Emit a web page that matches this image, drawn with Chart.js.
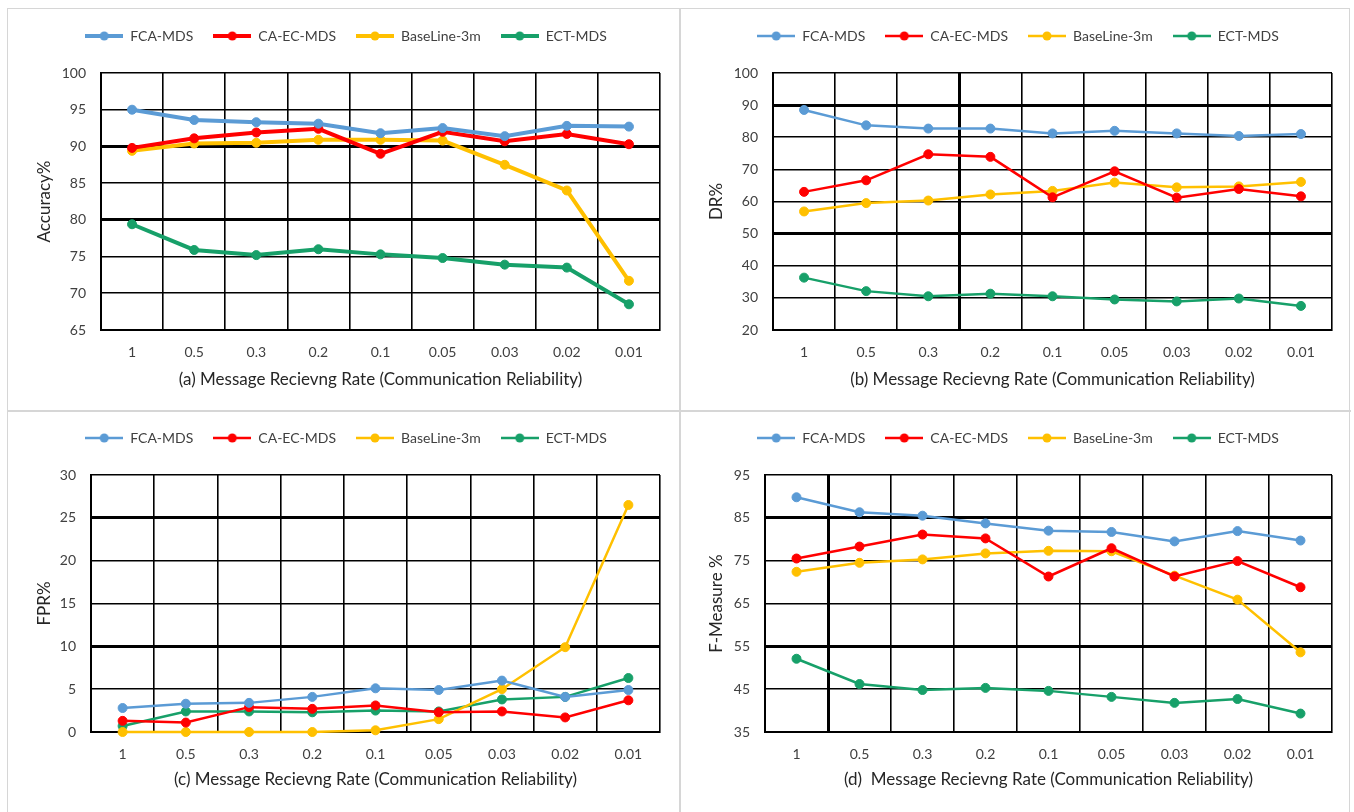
<!DOCTYPE html>
<html>
<head>
<meta charset="utf-8">
<title>Message receiving rate results</title>
<script src="https://cdn.jsdelivr.net/npm/chart.js@4.4.1/dist/chart.umd.min.js"></script>
<style>
  body { margin: 0; background: #fff; }
  #wrap { position: relative; width: 1354px; height: 812px; overflow: hidden; background: #fff; }
  #wrap canvas { position: absolute; }
  .frame { position: absolute; left: 7px; top: 8px; width: 1343px; height: 830px; border: 1px solid #d6d6d6; box-sizing: border-box; }
  .vline { position: absolute; left: 679px; top: 8px; width: 2px; height: 810px; background: #d6d6d6; }
  .hline { position: absolute; left: 7px; top: 410px; width: 1344px; height: 2px; background: #d6d6d6; }
</style>
</head>
<body>
<div id="wrap">
  <div class="frame"></div>
  <div class="vline"></div>
  <div class="hline"></div>
  <canvas id="chartA" width="672" height="402" style="left:8px;top:9px"></canvas>
  <canvas id="chartB" width="671" height="402" style="left:680px;top:9px"></canvas>
  <canvas id="chartC" width="672" height="401" style="left:8px;top:411px"></canvas>
  <canvas id="chartD" width="671" height="401" style="left:680px;top:411px"></canvas>
</div>
<script>
// x categories (message receiving rate)
const rates = ['1', '0.5', '0.3', '0.2', '0.1', '0.05', '0.03', '0.02', '0.01'];
const seriesNames = ['FCA-MDS', 'CA-EC-MDS', 'BaseLine-3m', 'ECT-MDS'];
const seriesColors = ['#5B9BD5', '#FF0000', '#FFC000', '#17A069'];

// (a) Accuracy %
const accFCA  = [95.0, 93.6, 93.3, 93.1, 91.8, 92.5, 91.4, 92.8, 92.7];
const accCAEC = [89.8, 91.1, 91.9, 92.4, 89.0, 92.0, 90.7, 91.7, 90.3];
const accBase = [89.4, 90.4, 90.5, 90.9, 90.9, 90.8, 87.5, 84.0, 71.7];
const accECT  = [79.4, 75.9, 75.2, 76.0, 75.3, 74.8, 73.9, 73.5, 68.5];

// (b) DR %
const drFCA  = [88.5, 83.7, 82.7, 82.7, 81.2, 82.0, 81.2, 80.4, 81.0];
const drCAEC = [63.0, 66.6, 74.7, 73.9, 61.3, 69.4, 61.2, 63.9, 61.6];
const drBase = [56.9, 59.5, 60.3, 62.2, 63.3, 65.9, 64.4, 64.7, 66.1];
const drECT  = [36.3, 32.1, 30.5, 31.3, 30.5, 29.5, 28.9, 29.8, 27.5];

// (c) FPR %
const fprFCA  = [2.8, 3.3, 3.4, 4.1, 5.1, 4.9, 6.0, 4.1, 4.9];
const fprCAEC = [1.3, 1.1, 2.9, 2.7, 3.1, 2.3, 2.4, 1.7, 3.7];
const fprBase = [0, 0, 0, 0, 0.2, 1.5, 5.0, 9.9, 26.5];
const fprECT  = [0.7, 2.4, 2.4, 2.3, 2.5, 2.4, 3.8, 4.1, 6.3];

// (d) F-Measure %
const fmFCA  = [89.8, 86.3, 85.5, 83.7, 82.0, 81.7, 79.5, 81.9, 79.7];
const fmCAEC = [75.5, 78.3, 81.1, 80.2, 71.3, 77.9, 71.3, 74.9, 68.8];
const fmBase = [72.4, 74.5, 75.3, 76.7, 77.3, 77.2, 71.5, 65.9, 53.6];
const fmECT  = [52.1, 46.2, 44.8, 45.3, 44.6, 43.2, 41.8, 42.7, 39.3];

const xTitle = 'Message Recievng Rate (Communication Reliability)';
const FONT = 'Lato, "Open Sans", sans-serif';

// heavier grid lines as they show up in the scanned figure
const panels = [
  { id: 'chartA', tag: '(a) ', yTitle: 'Accuracy%', min: 65, max: 100, step: 5,
    series: [accFCA, accCAEC, accBase, accECT], lw: 4, left: 93, titleY: 371,
    thickY: [90, 80], thickX: [] },
  { id: 'chartB', tag: '(b) ', yTitle: 'DR%', min: 20, max: 100, step: 10,
    series: [drFCA, drCAEC, drBase, drECT], lw: 2.5, left: 93, titleY: 371,
    thickY: [90, 50], thickX: [3] },
  { id: 'chartC', tag: '(c) ', yTitle: 'FPR%', min: 0, max: 30, step: 5,
    series: [fprFCA, fprCAEC, fprBase, fprECT], lw: 2.5, left: 83, titleY: 369,
    thickY: [25, 10], thickX: [] },
  { id: 'chartD', tag: '(d)  ', yTitle: 'F-Measure %', min: 35, max: 95, step: 10,
    series: [fmFCA, fmCAEC, fmBase, fmECT], lw: 2.5, left: 85, titleY: 369,
    thickY: [85, 55], thickX: [1] }
];

const PLOT_TOP = 64;
const PLOT_BOTTOM = 321;
const PLOT_RIGHT = 652;
const TICK_Y = 343;

// line + dot marker used in the legend
function legendMarker(color, lw) {
  const c = document.createElement('canvas');
  c.width = 38;
  c.height = 12;
  const g = c.getContext('2d');
  g.strokeStyle = color;
  g.lineWidth = lw;
  g.beginPath();
  g.moveTo(0, 6);
  g.lineTo(38, 6);
  g.stroke();
  g.fillStyle = color;
  g.beginPath();
  g.arc(19, 6, 4.5, 0, Math.PI * 2);
  g.fill();
  return c;
}

// fixed legend height above the plot, and a small sideways shift
const legendGap = {
  id: 'legendGap',
  beforeLayout(chart, args, opts) {
    const legend = chart.legend;
    if (!legend || legend._gapFit) return;
    const fit = legend.fit;
    legend.fit = function () {
      fit.call(this);
      this.height = opts.height;
    };
    legend._gapFit = true;
  },
  afterLayout(chart, args, opts) {
    chart.legend.left += opts.shift;
    chart.legend.right += opts.shift;
  }
};

function buildChart(p) {
  const canvas = document.getElementById(p.id);
  const H = canvas.height;
  const W = canvas.width;
  const markers = seriesColors.map(c => legendMarker(c, p.lw));

  return new Chart(canvas, {
    type: 'line',
    data: {
      labels: rates,
      datasets: seriesNames.map((name, i) => ({
        label: name,
        data: p.series[i],
        borderColor: seriesColors[i],
        backgroundColor: seriesColors[i],
        borderWidth: p.lw,
        pointRadius: 4.5,
        pointBorderWidth: 1,
        pointBackgroundColor: seriesColors[i],
        tension: 0,
        clip: false
      }))
    },
    options: {
      responsive: false,
      animation: false,
      events: [],
      layout: { padding: { left: 0, right: W - PLOT_RIGHT, top: 0, bottom: 0 } },
      plugins: {
        legendGap: { height: PLOT_TOP, shift: 12 },
        tooltip: { enabled: false },
        legend: {
          position: 'top',
          labels: {
            usePointStyle: true,
            pointStyleWidth: 38,
            padding: 20,
            color: '#404040',
            font: { family: FONT, size: 14 },
            generateLabels(chart) {
              const items = Chart.defaults.plugins.legend.labels.generateLabels(chart);
              items.forEach((it, i) => { it.pointStyle = markers[i]; });
              return items;
            }
          }
        }
      },
      scales: {
        x: {
          offset: true,
          grid: {
            color: '#000',
            lineWidth: ctx => (p.thickX.includes(ctx.index) ? 3 : 1.6),
            drawTicks: false,
            offset: true
          },
          border: { color: '#000', width: 2 },
          ticks: { color: '#404040', padding: TICK_Y - PLOT_BOTTOM - 8.4, font: { family: FONT, size: 14 } },
          title: {
            display: true,
            text: p.tag + xTitle,
            color: '#262626',
            font: { family: FONT, size: 17 },
            padding: { top: 0, bottom: H - p.titleY - 10.2 }
          },
          afterFit(scale) { scale.height = H - PLOT_BOTTOM; }
        },
        y: {
          min: p.min,
          max: p.max,
          grid: {
            color: '#000',
            lineWidth: ctx => (ctx.tick && p.thickY.includes(ctx.tick.value) ? 3 : 1.6),
            drawTicks: false
          },
          border: { color: '#000', width: 2 },
          ticks: { stepSize: p.step, color: '#404040', padding: 15, font: { family: FONT, size: 14 } },
          title: {
            display: true,
            text: p.yTitle,
            color: '#262626',
            font: { family: FONT, size: 17 },
            padding: { top: 26, bottom: 0 }
          },
          afterFit(scale) { scale.width = p.left; }
        }
      }
    },
    plugins: [legendGap]
  });
}

panels.forEach(buildChart);
</script>
</body>
</html>
